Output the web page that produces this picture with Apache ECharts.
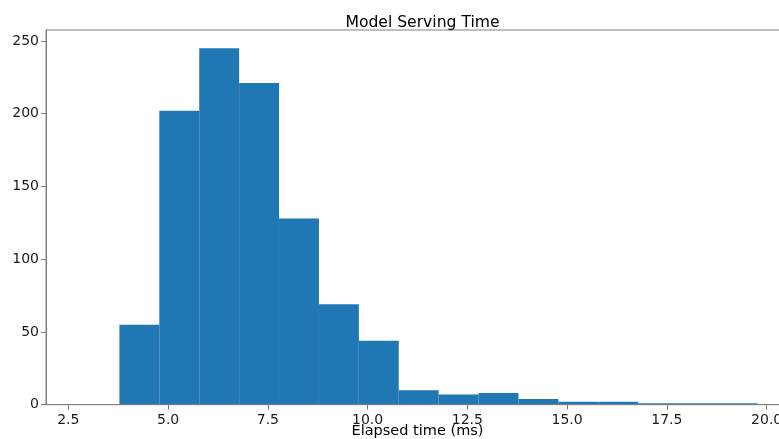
<!DOCTYPE html>
<html>
<head>
<meta charset="utf-8">
<script src="https://cdn.jsdelivr.net/npm/echarts@6/dist/echarts.min.js"></script>
<style>
html,body{margin:0;padding:0;background:#fff;}
#chart{width:779px;height:439px;}
</style>
</head>
<body>
<div id="chart"></div>
<script>
const binEdges = [3.78, 4.78, 5.78, 6.78, 7.78, 8.78, 9.78, 10.78, 11.78, 12.78, 13.78, 14.78, 15.78, 16.78, 17.77, 18.77, 19.77];
const binCounts = [55, 202, 245, 221, 128, 69, 44, 10, 7, 8, 4, 2, 2, 1, 1, 1];
const xTicks = [2.5, 5.0, 7.5, 10.0, 12.5, 15.0, 17.5, 20.0];
const yTicks = [0, 50, 100, 150, 200, 250];
const titleText = 'Model Serving Time';
const xLabelText = 'Elapsed time (ms)';

const data = binCounts.map((c, i) => [binEdges[i], binEdges[i + 1], c]);

const chart = echarts.init(document.getElementById('chart'));
const font = 'DejaVu Sans';
chart.setOption({
  animation: false,
  title: {
    text: titleText,
    left: 417.5,
    textAlign: 'center',
    top: 10,
    textStyle: {fontFamily: font, fontSize: 15.6, fontWeight: 'normal', color: '#000'}
  },
  grid: {
    left: 46, right: -10, top: 30, bottom: 34.3,
    containLabel: false,
    outerBoundsMode: 'none',
    show: true, borderColor: '#808080', borderWidth: 1, backgroundColor: 'transparent'
  },
  xAxis: {
    type: 'value',
    min: 1.94, max: 20.56,
    z: 5,
    name: xLabelText,
    nameLocation: 'middle',
    nameGap: 19,
    nameMoveOverlap: false,
    nameTextStyle: {fontFamily: font, fontSize: 14.5, color: '#000'},
    axisLine: {show: true, onZero: false, lineStyle: {color: '#808080', width: 1}},
    axisTick: {show: true, length: 5, customValues: xTicks, lineStyle: {color: '#808080'}},
    axisLabel: {
      customValues: xTicks, margin: 9,
      fontFamily: font, fontSize: 14, color: '#1a1a1a',
      formatter: v => Number(v).toFixed(1)
    },
    splitLine: {show: false}
  },
  yAxis: {
    type: 'value',
    min: 0, max: 257.5,
    z: 5,
    axisLine: {show: true, lineStyle: {color: '#808080', width: 1}},
    axisTick: {show: true, length: 5, customValues: yTicks, lineStyle: {color: '#808080'}},
    axisLabel: {
      customValues: yTicks, margin: 7,
      fontFamily: font, fontSize: 14, color: '#1a1a1a'
    },
    splitLine: {show: false}
  },
  series: [{
    type: 'custom',
    data: data,
    encode: {x: [0, 1], y: 2},
    renderItem: function (params, api) {
      const p0 = api.coord([api.value(0), api.value(2)]);
      const p1 = api.coord([api.value(1), 0]);
      return {
        type: 'rect',
        shape: {x: p0[0], y: p0[1], width: p1[0] - p0[0], height: p1[1] - p0[1]},
        style: {fill: '#1f77b4'}
      };
    }
  }]
});
</script>
</body>
</html>
